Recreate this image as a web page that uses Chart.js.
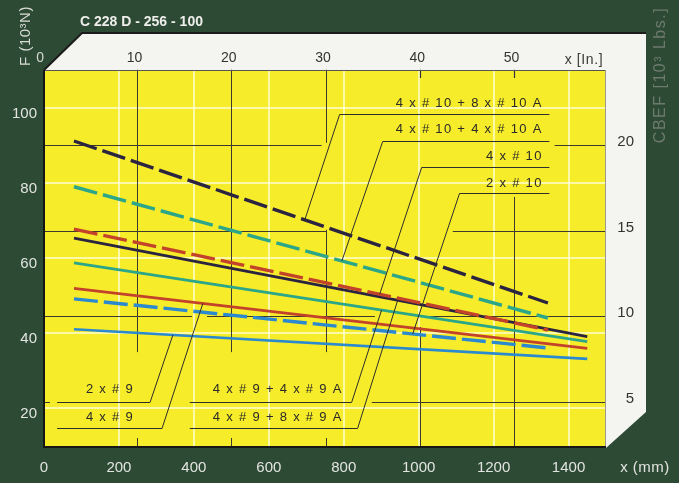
<!DOCTYPE html>
<html><head><meta charset="utf-8">
<script src="https://cdn.jsdelivr.net/npm/chart.js@4.4.1/dist/chart.umd.min.js"></script>
<style>html,body{margin:0;padding:0;background:#2d4a35;overflow:hidden}canvas{display:block}</style>
</head><body>
<canvas id="c" width="679" height="483"></canvas>
<script>
// ---------- DATA ----------
const seriesNames = ['4 x # 10 + 8 x # 10 A', '4 x # 10 + 4 x # 10 A', '4 x # 10', '2 x # 10',
                     '4 x # 9 + 8 x # 9 A', '4 x # 9 + 4 x # 9 A', '4 x # 9', '2 x # 9'];
const mmRange10 = [80, 1345];   // x (mm) span of #10 curves
const mmRange9  = [80, 1450];   // x (mm) span of #9 curves
const f_4x10_8x10A = [91.2, 48.0];
const f_4x10_4x10A = [79.0, 44.0];
const f_4x10       = [67.7, 40.8];
const f_2x10       = [49.1, 36.0];
const f_4x9_8x9A   = [65.3, 39.0];
const f_4x9_4x9A   = [58.7, 37.7];
const f_4x9        = [51.9, 35.9];
const f_2x9        = [41.0, 33.1];
const mmTicks    = [0, 200, 400, 600, 800, 1000, 1200, 1400];
const inchTicks  = [0, 10, 20, 30, 40, 50];
const forceTicks = [20, 40, 60, 80, 100];
const lbsTicks   = [5, 10, 15, 20];

// ---------- BUILD ----------
const seriesValues = [f_4x10_8x10A, f_4x10_4x10A, f_4x10, f_2x10, f_4x9_8x9A, f_4x9_4x9A, f_4x9, f_2x9];
const seriesX = [mmRange10, mmRange10, mmRange10, mmRange10, mmRange9, mmRange9, mmRange9, mmRange9];
const palette = ['#2a2440', '#2ba689', '#c2422a', '#2b89cf'];
const datasets = seriesValues.map((vals, i) => {
  const dashed = i < 4;
  return {
    label: seriesNames[i],
    data: seriesX[i].map((x, j) => ({x: x, y: vals[j]})),
    borderColor: palette[i % 4],
    borderWidth: dashed ? 3.4 : (i === 4 ? 2.8 : 2.6),
    borderDash: dashed ? [24, 6] : [],
    borderCapStyle: 'butt',
    pointRadius: 0, fill: false, tension: 0,
    xAxisID: 'x', yAxisID: 'y'
  };
});
function valueAt(i, x) {
  const xs = seriesX[i], v = seriesValues[i];
  return v[0] + (v[1] - v[0]) * (x - xs[0]) / (xs[1] - xs[0]);
}

// annotation layout (data units: mm / kN)
const notes = [
  {s: 0, tx: 1331, ty: 101.3, align: 'right', ul: [789, 1349], uy: 98.4, from: 'start', target: 696},
  {s: 1, tx: 1331, ty: 94.4,  align: 'right', ul: [904, 1349], uy: 91.2, from: 'start', target: 795},
  {s: 2, tx: 1331, ty: 87.2,  align: 'right', ul: [1008, 1349], uy: 84.27, from: 'start', target: 896},
  {s: 3, tx: 1331, ty: 80.0,  align: 'right', ul: [1109, 1349], uy: 77.33, from: 'start', target: 984},
  {s: 7, tx: 176, ty: 25.07, align: 'center', ul: [35, 283], uy: 21.6, from: 'end', target: 344},
  {s: 6, tx: 176, ty: 17.6,  align: 'center', ul: [35, 315], uy: 14.67, from: 'end', target: 424},
  {s: 5, tx: 624, ty: 25.07, align: 'center', ul: [389, 821], uy: 21.6, from: 'end', target: 901},
  {s: 4, tx: 624, ty: 17.6,  align: 'center', ul: [389, 837], uy: 14.67, from: 'end', target: 944}
];
// dark (inch / lbs) grid segments, broken around the label blocks
const vSegs = [[10, [[110.2, 34.9], [12.0, 9.6]]], [20, [[110.2, 34.9], [12.0, 9.6]]],
               [30, [[110.2, 90.7], [67.5, 34.9], [12.0, 9.6]]],
               [40, [[110.2, 108.0], [41.6, 9.6]]], [50, [[110.2, 108.0], [76.3, 9.6]]]];
const hSegs = [[20, [[0, 741], [1363, 1500]]], [15, [[0, 755], [1091, 1500]]],
               [10, [[0, 395], [435, 883], [1011, 1500]]], [5, [[0, 16], [875, 1500]]]];

const FONT = '"Liberation Sans", Arial, Helvetica, sans-serif';

function seg(ctx, x1, y1, x2, y2) { ctx.beginPath(); ctx.moveTo(x1, y1); ctx.lineTo(x2, y2); ctx.stroke(); }

const backPlugin = {
  id: 'back',
  beforeDraw(chart) {
    const {ctx, chartArea: a, scales} = chart;
    const X = scales.x, XI = scales.xin, Y = scales.y, Y2 = scales.y2;
    ctx.save();
    ctx.fillStyle = '#2d4a35';
    ctx.fillRect(0, 0, chart.width, chart.height);
    // white perspective frame
    ctx.fillStyle = '#f4f4f1';
    ctx.beginPath();
    ctx.moveTo(a.left, a.top);
    ctx.lineTo(a.left + 38, a.top - 37);
    ctx.lineTo(a.right + 40, a.top - 37);
    ctx.lineTo(a.right + 40, a.bottom - 35);
    ctx.lineTo(a.right, a.bottom + 1);
    ctx.closePath(); ctx.fill();
    ctx.strokeStyle = '#1b1b1b'; ctx.lineWidth = 2;
    ctx.beginPath();
    ctx.moveTo(a.left, a.top); ctx.lineTo(a.left + 38, a.top - 37); ctx.lineTo(a.right + 40, a.top - 37);
    ctx.stroke();
    // yellow plot
    ctx.fillStyle = '#f7ec2a';
    ctx.fillRect(a.left, a.top, a.right - a.left, a.bottom - a.top);
    // pale grid (mm / kN)
    ctx.strokeStyle = 'rgba(255,255,235,0.88)'; ctx.lineWidth = 1.5;
    mmTicks.forEach(v => { if (v === 0) return; const p = Math.round(X.getPixelForValue(v)); seg(ctx, p, a.top, p, a.bottom); });
    forceTicks.forEach(v => { const p = Math.round(Y.getPixelForValue(v)); seg(ctx, a.left, p, a.right, p); });
    // dark grid (inch / lbs)
    ctx.strokeStyle = '#3b3a2c'; ctx.lineWidth = 1;
    vSegs.forEach(([v, parts]) => {
      const p = Math.round(XI.getPixelForValue(v)) + 0.5;
      parts.forEach(([f1, f2]) => seg(ctx, p, Y.getPixelForValue(f1), p, Y.getPixelForValue(f2)));
    });
    hSegs.forEach(([v, parts]) => {
      const p = Math.round(Y2.getPixelForValue(v)) + 0.5;
      parts.forEach(([m1, m2]) => seg(ctx, X.getPixelForValue(m1), p, X.getPixelForValue(m2), p));
    });
    // borders
    ctx.strokeStyle = '#555'; ctx.lineWidth = 1;
    seg(ctx, a.left, a.top + 0.5, a.right, a.top + 0.5);
    ctx.strokeStyle = '#9a9a90';
    seg(ctx, a.right - 0.5, a.top, a.right - 0.5, a.bottom);
    ctx.strokeStyle = '#161616'; ctx.lineWidth = 2;
    seg(ctx, a.left, a.top, a.left, a.bottom + 1);
    seg(ctx, a.left, a.bottom, a.right, a.bottom);
    ctx.restore();
  }
};

function text(ctx, s, x, y, font, color, align, spacing) {
  ctx.font = font; ctx.fillStyle = color; ctx.textAlign = align || 'center'; ctx.textBaseline = 'middle';
  try { ctx.letterSpacing = spacing || '0px'; } catch (e) {}
  ctx.fillText(s, x, y);
}

const frontPlugin = {
  id: 'front',
  afterDraw(chart) {
    const {ctx, chartArea: a, scales} = chart;
    const X = scales.x, XI = scales.xin, Y = scales.y, Y2 = scales.y2;
    ctx.save();
    // annotations with leaders
    ctx.strokeStyle = '#2e2e2a'; ctx.lineWidth = 1;
    notes.forEach(n => {
      const uy = Math.round(Y.getPixelForValue(n.uy)) + 0.5;
      const u1 = X.getPixelForValue(n.ul[0]), u2 = X.getPixelForValue(n.ul[1]);
      seg(ctx, u1, uy, u2, uy);
      const sx = n.from === 'start' ? u1 : u2;
      const tx = X.getPixelForValue(n.target), ty = Y.getPixelForValue(valueAt(n.s, n.target));
      seg(ctx, sx, uy, tx, ty);
      text(ctx, seriesNames[n.s], X.getPixelForValue(n.tx), Y.getPixelForValue(n.ty),
           '13px ' + FONT, '#2a2a28', n.align, '1.3px');
    });
    // bottom mm ticks
    mmTicks.forEach(v => text(ctx, String(v), X.getPixelForValue(v), a.bottom + 21, '15px ' + FONT, '#e2e4e0', 'center'));
    text(ctx, 'x (mm)', a.right + 39, a.bottom + 21, '15px ' + FONT, '#e2e4e0', 'center', '0.5px');
    // left kN ticks
    forceTicks.forEach(v => text(ctx, String(v), a.left - 7, Y.getPixelForValue(v) + 6, '15px ' + FONT, '#e2e4e0', 'right'));
    // right lbs ticks
    lbsTicks.forEach(v => text(ctx, String(v), a.right + 28, Y2.getPixelForValue(v) - 3, '15px ' + FONT, '#333330', 'right'));
    // top inch ticks
    inchTicks.forEach(v => text(ctx, String(v), XI.getPixelForValue(v) - 2.5, a.top - 12, '14px ' + FONT,
                                v === 0 ? '#d6d8d2' : '#333330', 'center'));
    ctx.strokeStyle = '#333'; ctx.lineWidth = 1.2;
    [40, 50].forEach(v => { const p = Math.round(XI.getPixelForValue(v)) + 0.5; seg(ctx, p, a.top + 1, p, a.top + 8); });
    text(ctx, 'x [In.]', a.right - 22, a.top - 10, '14px ' + FONT, '#3a3a38', 'center', '0.6px');
    // title
    text(ctx, 'C 228 D - 256 - 100', 80, 22, 'bold 14px ' + FONT, '#eeeeea', 'left');
    // axis titles
    ctx.save(); ctx.translate(26, 36); ctx.rotate(-Math.PI / 2);
    text(ctx, 'F (10³N)', 0, 0, '15px ' + FONT, '#d8dad4', 'center', '0.5px');
    ctx.restore();
    ctx.save(); ctx.translate(661, 75); ctx.rotate(-Math.PI / 2);
    text(ctx, 'CBEF [10³ Lbs.]', 0, 0, '16px ' + FONT, '#6d7a6e', 'center', '1.5px');
    ctx.restore();
    ctx.restore();
  }
};

new Chart(document.getElementById('c'), {
  type: 'line',
  data: {datasets: datasets},
  options: {
    responsive: false, animation: false, devicePixelRatio: 1,
    layout: {padding: {left: 44, right: 73, top: 70, bottom: 36}},
    plugins: {legend: {display: false}, tooltip: {enabled: false}},
    scales: {
      x:   {type: 'linear', min: 0, max: 1500, display: false},
      xin: {type: 'linear', axis: 'x', position: 'top', min: 0.133, max: 59.76, display: false},
      y:   {type: 'linear', min: 9.6, max: 110.13, display: false},
      y2:  {type: 'linear', axis: 'y', position: 'right', min: 2.3735, max: 24.377, display: false}
    }
  },
  plugins: [backPlugin, frontPlugin]
});
</script>
</body></html>
